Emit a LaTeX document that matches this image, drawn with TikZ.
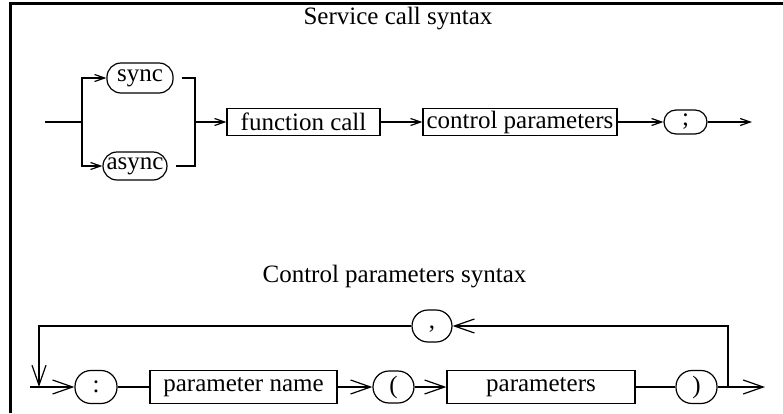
\documentclass[tikz,border=0pt]{standalone}
\usepackage{fontspec}
\setmainfont{Liberation Serif}
\usetikzlibrary{arrows.meta,positioning}

\begin{document}
\begin{tikzpicture}[x=0.5pt, y=-0.5pt, line width=0.6pt,
  font=\fontsize{12.5}{15}\selectfont,
  term/.style={rectangle, draw, rounded corners=#1, inner sep=0pt},
  term/.default=7pt,
  nonterm/.style={rectangle, draw, inner sep=0pt},
  arr/.style={-{Straight Barb[length=5pt, width=3.5pt]}},
  bigarr/.style={-{Straight Barb[length=10pt, width=7pt]}}]
  \useasboundingbox (0,0) rectangle (783,413);
  \draw [line width=1.5pt] (10.5,413) -- (10.5,3) -- (783,3);

  % service call syntax
  \node (title) at (398,19) {Service call syntax};
  \node (sync) [term, minimum width=33pt, minimum height=15pt] at (140,78) {sync};
  \node (async) [term, minimum width=32pt, minimum height=14pt] at (135,166) {async};
  \node (fcall) [nonterm, minimum width=76.5pt, minimum height=13.5pt] at (303.5,122) {function call};
  \node (ctrl) [nonterm, minimum width=97pt, minimum height=13.5pt] at (520,122) {control parameters};
  \node (semi) [term=6pt, minimum width=21.5pt, minimum height=12pt] at (685.5,122) {;};
  \coordinate (start) at (45,122);
  \coordinate (split) at (82,122);
  \coordinate (join) at (195,122);
  \coordinate (stop) at (752,122);

  \draw (start) -- (split);
  \draw [arr] (split) |- (sync.west);
  \draw [arr] (split) |- (async.west);
  \draw [shorten <=4pt] (sync.east) -| (join);
  \draw [shorten <=4pt] (async.east) -| (join);
  \draw [arr] (join) -- (fcall);
  \draw [arr] (fcall) -- (ctrl);
  \draw [arr] (ctrl) -- (semi);
  \draw [arr] (semi) -- (stop);

  % control parameters syntax
  \node (title2) at (394.5,277) {Control parameters syntax};
  \node (colon) [term=8pt, minimum width=21pt, minimum height=16.5pt] at (96,387) {:};
  \node (pname) [nonterm, minimum width=93.5pt, minimum height=16.5pt] at (243.5,387) {parameter name};
  \node (lparen) [term=8pt, minimum width=20.5pt, minimum height=16pt] at (393.5,387) {(};
  \node (params) [nonterm, minimum width=94pt, minimum height=16.5pt] at (541,387) {parameters};
  \node (rparen) [term=8pt, minimum width=20.5pt, minimum height=16.5pt] at (696.5,387) {)};
  \node (comma) [term=8pt, minimum width=20pt, minimum height=16pt, text height=2pt, text depth=0pt] at (432,326) {,};
  \coordinate (entry) at (30,387);
  \coordinate (loopl) at (39,387);
  \coordinate (loopr) at (728,387);
  \coordinate (exit) at (765,387);

  \draw [bigarr] (entry) -- (colon);
  \draw (colon) -- (pname);
  \draw [bigarr] (pname) -- (lparen);
  \draw [bigarr] (lparen) -- (params);
  \draw (params) -- (rparen);
  \draw [bigarr] (rparen) -- (exit);
  \draw [bigarr] (loopr) |- (comma.east);
  \draw [bigarr] (comma.west) -| (loopl);
\end{tikzpicture}
\end{document}
